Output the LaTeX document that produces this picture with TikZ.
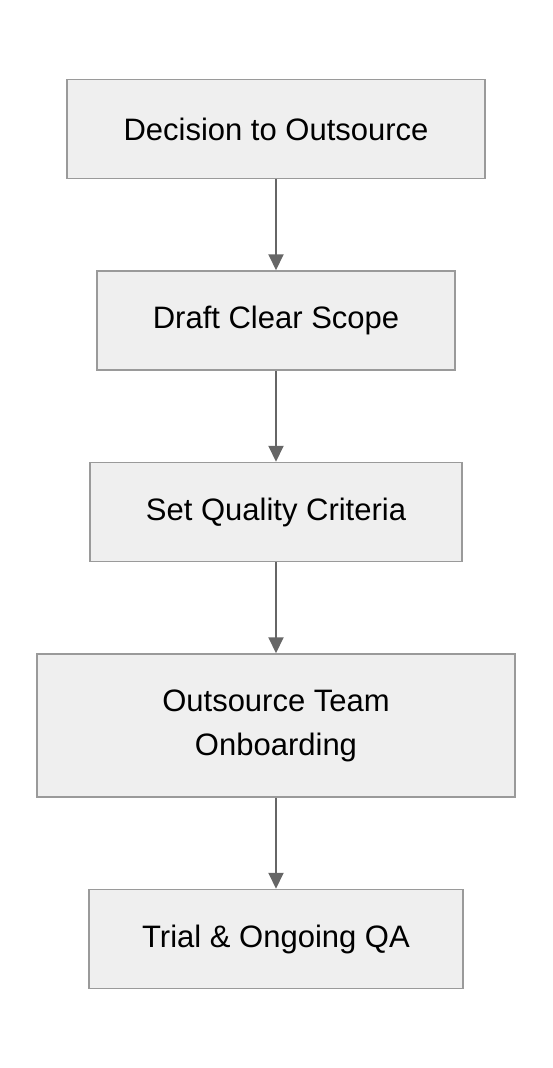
\documentclass[tikz,border=0pt]{standalone}
\usepackage{fontspec}
\setmainfont{Liberation Sans}
\usetikzlibrary{positioning,arrows.meta}
\definecolor{boxfill}{HTML}{EFEFEF}
\definecolor{boxline}{HTML}{9A9A9A}
\definecolor{arrowgray}{HTML}{666666}
\tikzset{
	stepbox/.style={draw=boxline,fill=boxfill,line width=1.5pt,minimum height=99pt,
		inner sep=0pt,align=center,font=\fontsize{31}{44}\selectfont},
	flow/.style={draw=arrowgray,line width=2pt,-{Triangle[length=16pt,width=15pt]}}
}
\begin{document}
\begin{tikzpicture}[x=1pt,y=1pt]
	\useasboundingbox (0,0) rectangle (552,-1068);
	\node[stepbox,minimum width=418pt] (decide) at (276,-129) {Decision to Outsource};
	\node[stepbox,minimum width=358pt,below=91pt of decide] (scope) {Draft Clear Scope};
	\node[stepbox,minimum width=372pt,below=91pt of scope] (criteria) {Set Quality Criteria};
	\node[stepbox,minimum width=478pt,minimum height=143pt,below=91pt of criteria] (onboard) {Outsource Team\\Onboarding};
	\node[stepbox,minimum width=374pt,below=91pt of onboard] (trial) {Trial \& Ongoing QA};
	\draw[flow] (decide) -- (scope);
	\draw[flow] (scope) -- (criteria);
	\draw[flow] (criteria) -- (onboard);
	\draw[flow] (onboard) -- (trial);
\end{tikzpicture}
\end{document}
